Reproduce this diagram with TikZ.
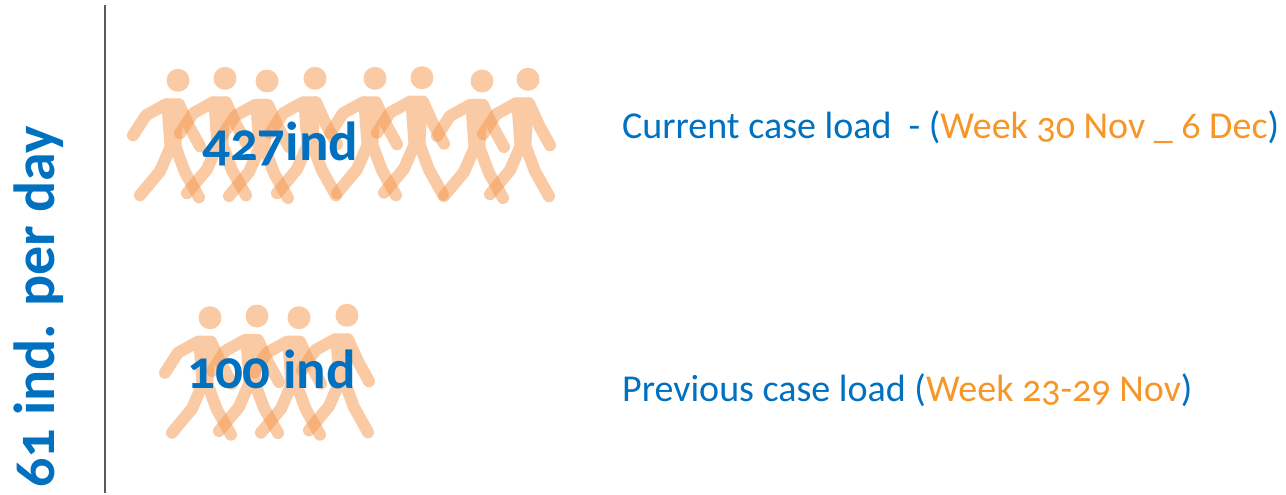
\documentclass[tikz,border=0pt]{standalone}
\usepackage{fontspec}
\setmainfont{Carlito}[Numbers=OldStyle]
\definecolor{caseblue}{RGB}{0,112,192}
\definecolor{caseorange}{RGB}{247,150,40}
\definecolor{walkfill}{RGB}{245,150,75}
\definecolor{rulegray}{RGB}{90,90,90}

\begin{document}
\begin{tikzpicture}[x=1pt, y=-1pt,
  limb/.style={walkfill, line width=12pt, line cap=round, line join=round},
  count/.style={anchor=base west, inner sep=0pt, text=caseblue, font=\fontsize{55}{60}\selectfont\bfseries},
  caselabel/.style={anchor=base west, inner sep=0pt, text=caseblue, font=\fontsize{38}{44}\selectfont},
  walker/.pic={
    \begin{scope}[transparency group, opacity=0.5]
      \fill [walkfill] (0,0) circle [radius=11.5pt];
      \fill [walkfill, rounded corners=6pt] (-17,18) -- (6,18) -- (3,74) -- (-13,74) -- cycle;
      \draw [limb] (-12,24) -- (-32,35) -- (-45,55);
      \draw [limb] (1,24) -- (11,46) -- (22,66);
      \draw [limb] (-8,68) -- (-18,91) -- (-38,115);
      \draw [limb] (-2,68) -- (7,92) -- (21,117);
    \end{scope}
  }]

\useasboundingbox (0,0) rectangle (1286,495);

% walkers, this week and last week
\foreach \hx/\hy in {178/80.3, 225/78.3, 267/81, 315/78.3, 375/78.3, 422/77.7, 482/81, 528/79.3}
  \pic at (\hx,\hy) {walker};
\foreach \hx/\hy in {210/317.7, 257/316, 299/317.7, 347/315.3}
  \pic at (\hx,\hy) {walker};

\node [count] (curcount) at (202,160) {427ind};
\node [count] (prevcount) at (187,388) {100 ind};

\node [caselabel] (curlabel) at (622,138) {Current case load\ \ - (\textcolor{caseorange}{Week 30 Nov \_ 6 Dec})};
\node [caselabel] (prevlabel) at (622,401) {Previous case load (\textcolor{caseorange}{Week 23-29 Nov})};

\node [rotate=90, anchor=base west, inner sep=0pt, text=caseblue, font=\fontsize{58}{62}\selectfont\bfseries] (rate) at (54,488) {61 ind. per day};
\draw [rulegray, line width=2pt] (105,5) -- (105,493);

\end{tikzpicture}
\end{document}
